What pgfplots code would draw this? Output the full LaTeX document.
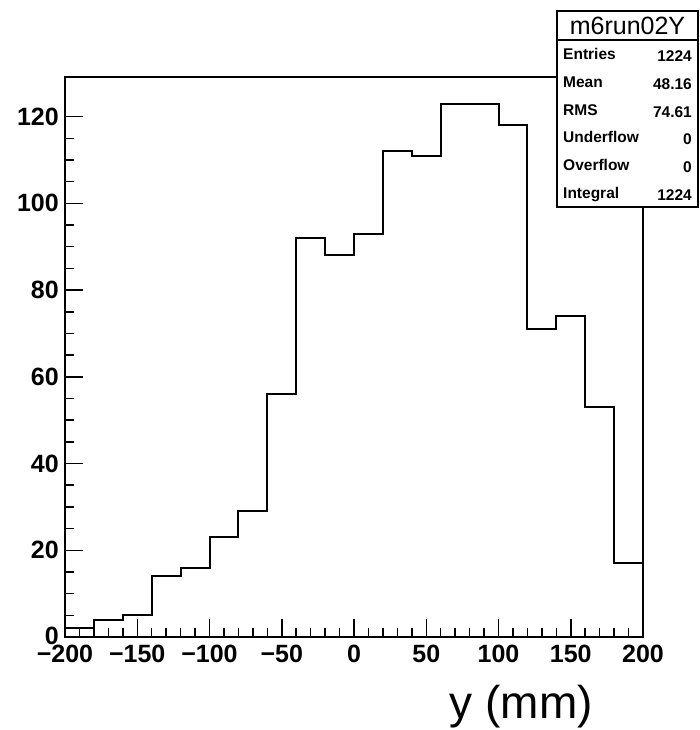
\documentclass[border=0pt]{standalone}
\usepackage{fontspec}
\setmainfont{Liberation Sans}
\usepackage{pgfplots}
\pgfplotsset{compat=1.18}
\begin{document}
\begin{tikzpicture}[x=1pt,y=1pt]
\path[use as bounding box] (0,0) rectangle (700,730);
\begin{axis}[
  at={(65pt,93pt)}, anchor=south west,
  scale only axis, width=578pt, height=560pt,
  xmin=-200, xmax=200, ymin=0, ymax=129.15,
  axis line style={line width=1.5pt},
  every tick/.style={black, line width=1.5pt},
  tick align=inside,
  xtick pos=bottom, ytick pos=left,
  xtick={-200,-150,...,200},
  xticklabels={−200,−150,−100,−50,0,50,100,150,200},
  minor x tick num=4,
  ytick={0,20,...,120},
  yticklabels={\raisebox{3pt}{0},20,40,60,80,100,120},
  minor y tick num=3,
  major tick length=18pt, minor tick length=9pt,
  /pgf/number format/assume math mode=true,
  tick label style={font=\bfseries\fontsize{25}{25}\selectfont, inner sep=0pt},
  xticklabel style={anchor=north, yshift=-8pt},
  yticklabel style={anchor=east, xshift=-6pt},
  clip=false,
]
\addplot[const plot, black, line width=2pt] coordinates {
(-200,2) (-180,4) (-160,5) (-140,14) (-120,16) (-100,23) (-80,29) (-60,56)
(-40,92) (-20,88) (0,93) (20,112) (40,111) (60,123) (80,123) (100,118)
(120,71) (140,74) (160,53) (180,17) (200,17)
};
\end{axis}
\node[anchor=base east, inner sep=0pt, font=\fontsize{46}{46}\selectfont] at (593,11.5) {y (mm)};
% stats box
\draw[fill=white, line width=1.5pt] (557,523) rectangle (698,719);
\draw[line width=1.5pt] (557,690) -- (698,690);
\node[inner sep=0pt, font=\fontsize{25}{25}\selectfont] at (627.5,704.5) {m6run02Y};
\begin{scope}[every node/.style={inner sep=0pt, font=\bfseries\fontsize{15.5}{15.5}\selectfont}]
\node[anchor=base west] at (563,670) {Entries};
\node[anchor=base east] at (692,668) {1224};
\node[anchor=base west] at (563,642) {Mean};
\node[anchor=base east] at (692,640) {48.16};
\node[anchor=base west] at (563,614) {RMS};
\node[anchor=base east] at (692,612) {74.61};
\node[anchor=base west] at (563,587) {Underflow};
\node[anchor=base east] at (692,585) {0};
\node[anchor=base west] at (563,559) {Overflow};
\node[anchor=base east] at (692,557) {0};
\node[anchor=base west] at (563,531) {Integral};
\node[anchor=base east] at (692,529) {1224};
\end{scope}
\end{tikzpicture}
\end{document}
